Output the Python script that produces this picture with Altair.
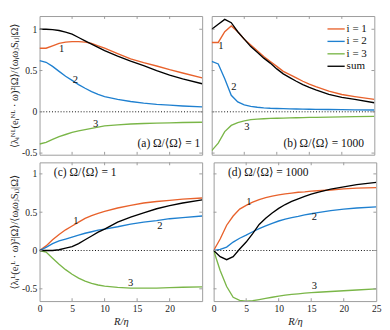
import altair as alt
import pandas as pd

# ---------------- data ----------------
R_smooth = [0, 1, 2, 3, 4, 5, 6, 7, 8, 9, 10, 12, 14, 16, 18, 20, 22, 25]
R_coarse = [0, 1, 2, 3, 4, 5, 6, 7, 8, 9, 10, 11, 12, 13, 14, 15, 16, 18, 20, 22, 25]

# (a) nonlinear, Omega/<Omega> = 1
a_i1 = [0.77, 0.77, 0.80, 0.83, 0.845, 0.85, 0.85, 0.845, 0.83, 0.80, 0.77, 0.705, 0.64, 0.595, 0.555, 0.51, 0.47, 0.41]
a_i2 = [0.62, 0.60, 0.55, 0.49, 0.43, 0.38, 0.33, 0.285, 0.245, 0.21, 0.185, 0.15, 0.125, 0.105, 0.09, 0.08, 0.07, 0.06]
a_i3 = [-0.39, -0.37, -0.335, -0.30, -0.275, -0.25, -0.23, -0.215, -0.20, -0.185, -0.17, -0.158, -0.148, -0.142, -0.138, -0.134, -0.13, -0.126]
a_sum = [1.0, 1.0, 0.995, 0.985, 0.965, 0.94, 0.90, 0.86, 0.82, 0.78, 0.74, 0.675, 0.615, 0.56, 0.50, 0.445, 0.40, 0.34]

# (b) nonlinear, Omega/<Omega> = 1000
b_i1 = [0.84, 0.84, 0.97, 1.04, 0.97, 0.88, 0.81, 0.74, 0.67, 0.61, 0.55, 0.49, 0.45, 0.41, 0.37, 0.335, 0.305, 0.25, 0.21, 0.185, 0.15]
b_i2 = [0.61, 0.58, 0.40, 0.20, 0.12, 0.085, 0.066, 0.055, 0.048, 0.043, 0.04, 0.038, 0.035, 0.034, 0.032, 0.031, 0.03, 0.028, 0.026, 0.024, 0.022]
b_i3 = [-0.47, -0.38, -0.24, -0.165, -0.13, -0.11, -0.095, -0.088, -0.084, -0.08, -0.078, -0.076, -0.074, -0.072, -0.07, -0.068, -0.067, -0.064, -0.061, -0.058, -0.055]
b_sum = [1.0, 1.06, 1.12, 1.08, 0.97, 0.88, 0.79, 0.72, 0.65, 0.59, 0.52, 0.46, 0.415, 0.37, 0.33, 0.295, 0.265, 0.21, 0.175, 0.15, 0.11]

# (c) linear, Omega/<Omega> = 1
c_i1 = [0.0, 0.06, 0.14, 0.21, 0.27, 0.32, 0.37, 0.42, 0.455, 0.485, 0.51, 0.555, 0.59, 0.62, 0.64, 0.655, 0.67, 0.685]
c_i2 = [0.0, 0.04, 0.09, 0.125, 0.15, 0.175, 0.20, 0.225, 0.245, 0.265, 0.28, 0.31, 0.345, 0.37, 0.39, 0.415, 0.43, 0.45]
c_i3 = [0.0, -0.02, -0.10, -0.18, -0.25, -0.31, -0.36, -0.40, -0.43, -0.45, -0.465, -0.48, -0.49, -0.49, -0.49, -0.485, -0.48, -0.475]
c_sum = [0.0, 0.0, 0.0, 0.01, 0.03, 0.05, 0.09, 0.14, 0.19, 0.24, 0.28, 0.37, 0.435, 0.49, 0.545, 0.585, 0.62, 0.66]

# (d) linear, Omega/<Omega> = 1000
d_i1 = [0.0, 0.15, 0.33, 0.45, 0.54, 0.59, 0.63, 0.665, 0.69, 0.71, 0.725, 0.74, 0.75, 0.76, 0.765, 0.775, 0.78, 0.79, 0.805, 0.815, 0.82]
d_i2 = [0.0, 0.016, 0.045, 0.11, 0.16, 0.20, 0.245, 0.285, 0.32, 0.355, 0.385, 0.41, 0.43, 0.445, 0.465, 0.48, 0.495, 0.52, 0.54, 0.555, 0.57]
d_i3 = [0.0, -0.26, -0.47, -0.61, -0.65, -0.66, -0.655, -0.64, -0.625, -0.61, -0.595, -0.583, -0.572, -0.565, -0.557, -0.55, -0.545, -0.535, -0.525, -0.515, -0.50]
d_sum = [0.0, -0.08, -0.12, -0.08, 0.02, 0.11, 0.22, 0.34, 0.42, 0.49, 0.55, 0.60, 0.64, 0.675, 0.705, 0.735, 0.76, 0.80, 0.83, 0.86, 0.89]

series_names = ["i = 1", "i = 2", "i = 3", "sum"]
series_colors = ["#E8622C", "#1F80D0", "#7AB648", "#000000"]

# curve number labels: (text, R, value)
a_nums = [("1", 3.4, 0.76), ("2", 5.5, 0.38), ("3", 8.6, -0.15)]
b_nums = [("1", 1.4, 0.79), ("2", 3.4, 0.30), ("3", 5.4, -0.18)]
c_nums = [("1", 5.6, 0.385), ("2", 18.5, 0.32), ("3", 14.0, -0.43)]
d_nums = [("1", 5.4, 0.63), ("2", 15.5, 0.43), ("3", 15.5, -0.47)]

panel_texts = ["(a)  Ω/⟨Ω⟩ = 1", "(b)  Ω/⟨Ω⟩ = 1000", "(c)  Ω/⟨Ω⟩ = 1", "(d)  Ω/⟨Ω⟩ = 1000"]

xtick_inner = [5, 10, 15, 20]
ytick_vals = [-0.5, 0, 0.5, 1]

title_top = "⟨λᵢᴺᴸ(eᵢᴺᴸ · ω)²|Ω⟩/⟨ωᵢωⱼSᵢⱼ|Ω⟩"
title_bot = "⟨λᵢᴸ(eᵢᴸ · ω)²|Ω⟩/⟨ωᵢωⱼSᵢⱼ|Ω⟩"

FONT = "Liberation Serif, DejaVu Serif, serif"
W, H_TOP, H_BOT = 170, 145, 145

xs = alt.Scale(domain=[0, 25], nice=False, zero=False)
ys_top = alt.Scale(domain=[-0.52, 1.16], nice=False, zero=False)
ys_bot = alt.Scale(domain=[-0.66, 1.15], nice=False, zero=False)


def long_df(R, cols):
    rows = []
    for name, vals in zip(series_names, cols):
        for r, v in zip(R, vals):
            rows.append({"R": r, "v": v, "s": name})
    return pd.DataFrame(rows)


def X(field, xaxis):
    return alt.X(field, scale=xs, axis=xaxis)


def Y(field, ys, yaxis):
    return alt.Y(field, scale=ys, axis=yaxis)


def panel(df, nums, ptext, plabel_pos, palign, ys, H, yaxis, xaxis, legend=False):
    lines = alt.Chart(df).mark_line(strokeWidth=1.4, clip=True).encode(
        x=X("R:Q", xaxis),
        y=Y("v:Q", ys, yaxis),
        color=alt.Color("s:N", scale=alt.Scale(domain=series_names, range=series_colors), legend=None),
        detail="s:N",
    )
    zero = alt.Chart(pd.DataFrame({"z": [0]})).mark_rule(
        color="#000", strokeDash=[1, 2], strokeWidth=1
    ).encode(y=Y("z:Q", ys, yaxis))
    ndf = pd.DataFrame(nums, columns=["t", "R", "v"])
    numtext = alt.Chart(ndf).mark_text(fontSize=11, font=FONT, color="#111").encode(
        x=X("R:Q", xaxis), y=Y("v:Q", ys, yaxis), text="t:N"
    )
    pdf = pd.DataFrame({"t": [ptext], "R": [plabel_pos[0]], "v": [plabel_pos[1]]})
    ptxt = alt.Chart(pdf).mark_text(fontSize=12, font=FONT, color="#111", align=palign, baseline="middle").encode(
        x=X("R:Q", xaxis), y=Y("v:Q", ys, yaxis), text="t:N"
    )
    xt = pd.DataFrame({"t": xtick_inner})
    yt = pd.DataFrame({"t": ytick_vals})
    tc = "#999"
    t_top = alt.Chart(xt).mark_rule(color=tc).encode(
        x=X("t:Q", xaxis), y=alt.value(0), y2=alt.value(3))
    t_bot = alt.Chart(xt).mark_rule(color=tc).encode(
        x=X("t:Q", xaxis), y=alt.value(H), y2=alt.value(H - 3))
    t_left = alt.Chart(yt).mark_rule(color=tc).encode(
        y=Y("t:Q", ys, yaxis), x=alt.value(0), x2=alt.value(3))
    t_right = alt.Chart(yt).mark_rule(color=tc).encode(
        y=Y("t:Q", ys, yaxis), x=alt.value(W), x2=alt.value(W - 3))
    layers = [lines, zero, t_top, t_bot, t_left, t_right, numtext, ptxt]
    if legend:
        one = pd.DataFrame({"a": [0]})
        ys_leg = [13.5, 26.5, 39.5, 52.5]
        for name, col, yy in zip(series_names, series_colors, ys_leg):
            layers.append(alt.Chart(one).mark_rule(color=col, strokeWidth=1.4).encode(
                x=alt.value(121), x2=alt.value(139), y=alt.value(yy)))
            layers.append(alt.Chart(one).mark_text(fontSize=11.5, font=FONT, color="#111", align="left",
                                                    baseline="middle").encode(
                x=alt.value(141), y=alt.value(yy), text=alt.value(name)))
    return alt.layer(*layers).properties(width=W, height=H)


def yax(title):
    return alt.Axis(values=ytick_vals, ticks=False, domain=False, grid=False, labelFontSize=10,
                    labelColor="#222", labelPadding=3, labelFlush=False,
                    labelExpr="datum.value < 0 ? '-' + format(-datum.value, '~g') : format(datum.value, '~g')",
                    title=title, titleFontSize=11, titleFontWeight="normal", titleColor="#222",
                    titlePadding=2, titleFont=FONT)


def xax(vals):
    return alt.Axis(values=vals, ticks=False, domain=False, grid=False, labelFontSize=10,
                    labelColor="#222", labelPadding=3, labelFlush=False, format="~g",
                    title="R/η", titleFontSize=11, titleFontStyle="italic", titleFontWeight="normal",
                    titleColor="#222", titlePadding=2, titleFont=FONT)


pa = panel(long_df(R_smooth, [a_i1, a_i2, a_i3, a_sum]), a_nums, panel_texts[0], (24.7, -0.38), "right",
           ys_top, H_TOP, yax(title_top), None)
pb = panel(long_df(R_coarse, [b_i1, b_i2, b_i3, b_sum]), b_nums, panel_texts[1], (23.4, -0.38), "right",
           ys_top, H_TOP, None, None, legend=True)
pc = panel(long_df(R_smooth, [c_i1, c_i2, c_i3, c_sum]), c_nums, panel_texts[2], (2.2, 1.02), "left",
           ys_bot, H_BOT, yax(title_bot), xax([0, 5, 10, 15, 20]))
pd_ = panel(long_df(R_coarse, [d_i1, d_i2, d_i3, d_sum]), d_nums, panel_texts[3], (2.2, 1.02), "left",
            ys_bot, H_BOT, None, xax([0, 5, 10, 15, 20, 25]))

chart = alt.vconcat(
    alt.hconcat(pa, pb, spacing=8),
    alt.hconcat(pc, pd_, spacing=8),
    spacing=3,
    padding=0,
).configure(font=FONT).configure_view(stroke="#999", strokeWidth=1)

chart.save("out.html", embed_options={"renderer": "svg", "actions": False})
